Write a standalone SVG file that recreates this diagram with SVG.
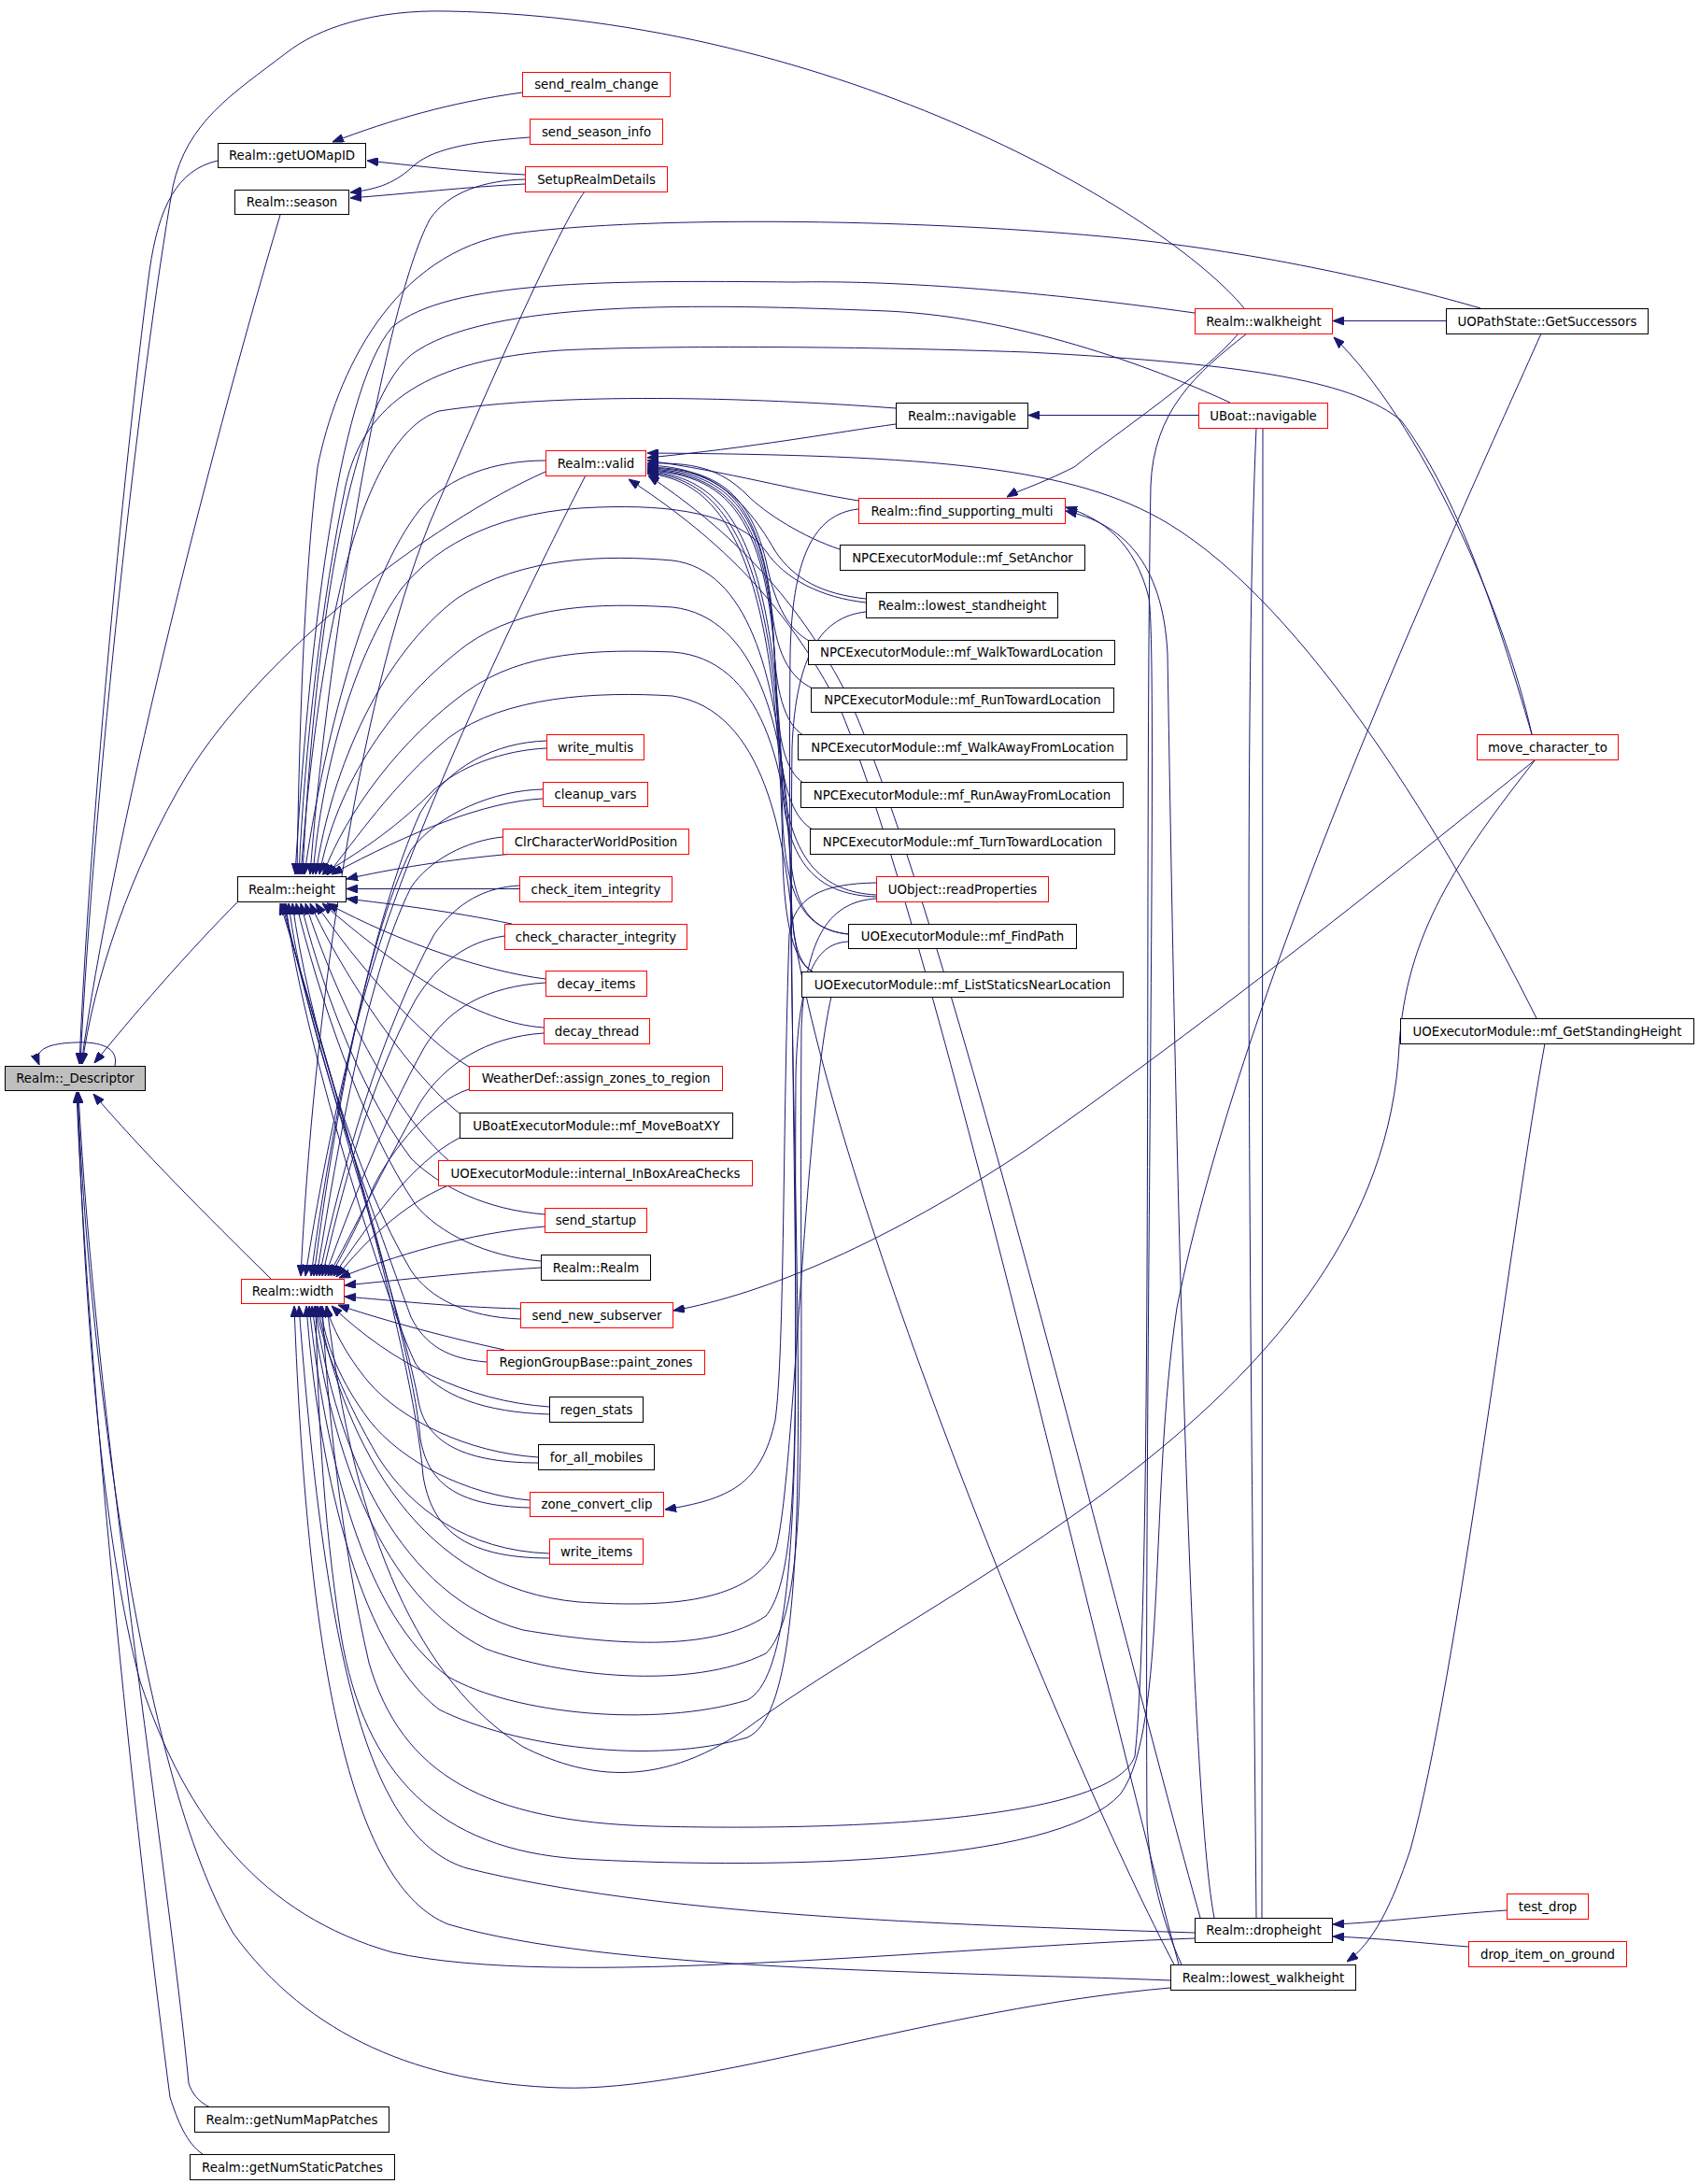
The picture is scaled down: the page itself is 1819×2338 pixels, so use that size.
<svg xmlns="http://www.w3.org/2000/svg" width="1819" height="2338" viewBox="0 0 1819 2338">
<defs>
<style>
.n rect{fill:#fff;stroke:#000;stroke-width:1}
.n.r rect{stroke:#f00}
.n.g rect{fill:#bfbfbf}
.n text{font-family:"DejaVu Sans","Liberation Sans",sans-serif;font-size:13.33px;text-anchor:middle;fill:#000}
#edges path{fill:none;stroke:#191970;stroke-width:1;marker-end:url(#a)}
#edges path.p{marker-end:none}
</style>
<marker id="a" markerWidth="12" markerHeight="9" refX="12" refY="4.5" orient="auto" markerUnits="userSpaceOnUse"><path d="M0,0 L12,4.5 L0,9 z" fill="#191970" stroke="#191970"/></marker>
</defs>
<rect width="1819" height="2338" fill="#fff"/>
<g id="edges">
<path d="M123,1141 C128,1118 100,1115 80,1116 C55,1117 35,1122 42,1140"/>
<path d="M256,964 C200,1020 140,1090 101,1138"/>
<path d="M290,1369 C220,1300 150,1230 100,1171"/>
<path d="M233,172 C190,182 170,220 160,290 C130,520 95,900 85,1139"/>
<path d="M300,230 C220,500 120,900 87,1139"/>
<path d="M1332,330 C1250,230 900,20 480,12 C400,10 340,30 306,57 C250,100 200,130 185,200 C150,400 100,850 86,1139"/>
<path d="M584,505 C460,560 280,700 200,830 C140,930 100,1050 88,1139"/>
<path d="M225,2256 C212,2250 205,2240 202,2230 C180,2000 100,1500 84,1169"/>
<path d="M217,2306 C200,2295 190,2270 182,2245 C150,2000 95,1500 82,1169"/>
<path d="M1253,2128 C1000,2150 750,2240 600,2235 C450,2230 330,2180 250,2070 C150,1900 95,1450 83,1169"/>
<path d="M1279,2075 C1000,2085 600,2130 420,2090 C280,2050 200,1950 150,1800 C110,1650 90,1400 83,1169"/>
<path d="M559,99 C480,110 420,128 356,152"/>
<path d="M562,187 C500,184 450,178 393,172"/>
<path d="M567,147 C500,152 460,160 440,180 C420,198 400,203 375,206"/>
<path d="M562,197 C500,200 440,207 375,212"/>
<path d="M562,192 C520,193 480,205 460,235 C410,330 350,700 332,936"/>
<path d="M626,205 C600,240 520,420 460,560 C380,760 335,1100 322,1366"/>
<path d="M584,493 C530,493 480,510 450,545 C390,620 345,800 326,936"/>
<path d="M627,509 C590,580 470,820 410,1000 C370,1120 340,1280 327,1366"/>
<path d="M585,801 C540,803 490,820 460,850 C420,890 380,915 345,936"/>
<path d="M585,793 C530,795 480,820 450,870 C400,980 355,1200 333,1366"/>
<path d="M581,855 C520,858 440,890 355,936"/>
<path d="M581,845 C530,846 470,870 440,910 C390,1010 355,1220 336,1366"/>
<path d="M550,914 C480,920 420,930 371,941"/>
<path d="M538,896 C500,900 460,920 440,950 C390,1050 358,1250 339,1366"/>
<path d="M556,951.5 L371,951.5"/>
<path d="M556,948 C520,950 490,965 465,1000 C410,1100 365,1250 342,1366"/>
<path d="M548,989 C480,975 420,968 371,962"/>
<path d="M540,1002 C500,1008 470,1030 445,1070 C395,1160 365,1280 345,1366"/>
<path d="M584,1048 C520,1040 430,1010 350,967"/>
<path d="M584,1052 C520,1056 480,1080 455,1120 C410,1200 372,1300 348,1366"/>
<path d="M582,1100 C510,1095 430,1040 345,967"/>
<path d="M582,1106 C520,1110 475,1140 450,1180 C410,1250 378,1320 351,1366"/>
<path d="M502,1142 C450,1110 380,1030 338,967"/>
<path d="M502,1166 C460,1180 420,1230 400,1270 C385,1310 365,1345 354,1366"/>
<path d="M492,1192 C440,1150 370,1050 332,967"/>
<path d="M492,1218 C440,1245 395,1310 357,1366"/>
<path d="M480,1242 C420,1190 360,1070 327,967"/>
<path d="M480,1269 C430,1290 390,1330 360,1367"/>
<path d="M583,1300 C520,1295 470,1270 440,1240 C380,1160 340,1040 322,967"/>
<path d="M583,1313 C500,1320 420,1345 363,1368"/>
<path d="M579,1350 C520,1345 470,1320 445,1290 C385,1200 340,1060 317,967"/>
<path d="M579,1357 C500,1362 430,1370 369,1376"/>
<path d="M557,1401 C480,1399 420,1392 369,1388"/>
<path d="M557,1412 C500,1410 460,1390 440,1360 C380,1260 330,1090 313,967"/>
<path d="M540,1445 C470,1430 400,1410 362,1397"/>
<path d="M521,1458 C480,1455 455,1440 440,1410 C400,1300 325,1100 309,967"/>
<path d="M588,1506 C500,1500 420,1460 355,1398"/>
<path d="M588,1514 C520,1512 470,1495 445,1460 C415,1400 320,1100 306,967"/>
<path d="M576,1560 C500,1555 430,1520 395,1480 C370,1450 355,1420 349,1398"/>
<path d="M576,1566 C490,1566 455,1540 448,1500 C430,1400 330,1100 304,967"/>
<path d="M567,1606 C500,1600 430,1565 395,1520 C365,1480 348,1440 343,1398"/>
<path d="M567,1614 C485,1612 458,1585 450,1540 C440,1420 335,1100 302,967"/>
<path d="M588,1663 C500,1660 440,1615 405,1560 C370,1500 345,1440 338,1398"/>
<path d="M588,1668 C495,1668 462,1635 453,1580 C442,1440 340,1100 300,967"/>
<path d="M1283,444.5 L1101,444.5"/>
<path d="M1548,343.5 L1427,343.5"/>
<path d="M1640,786 C1610,650 1520,450 1428,361"/>
<path d="M1326,357 C1290,400 1200,460 1150,500 C1110,520 1090,525 1078,532"/>
<path d="M959,454 C900,462 800,480 693,490"/>
<path d="M959,437 C800,425 600,420 470,440 C380,470 340,700 322,936"/>
<path d="M919,536 C850,525 780,505 693,493"/>
<path d="M899,588 C860,575 820,550 800,530 C770,500 740,495 693,496"/>
<path d="M927,641 C880,636 850,620 830,590 C790,520 750,500 693,498"/>
<path d="M868,687 C845,675 830,650 820,600 C800,520 760,502 693,500"/>
<path d="M870,737 C845,725 830,700 825,640 C810,530 770,503 693,501"/>
<path d="M860,787 C840,775 830,740 828,680 C820,540 775,505 693,502"/>
<path d="M860,838 C840,825 832,790 830,720 C825,550 780,507 693,503"/>
<path d="M870,888 C848,875 835,840 832,760 C828,560 785,508 693,504"/>
<path d="M938,960 C880,958 845,930 838,850 C830,600 790,510 693,505"/>
<path d="M908,1000 C860,995 842,960 838,880 C832,620 790,512 693,506"/>
<path d="M870,1040 C850,1030 840,990 838,920 C834,650 795,515 693,507"/>
<path d="M1645,1090 C1550,900 1400,650 1250,560 C1150,500 1000,487 693,485"/>
<path d="M1262,2103 C1180,1800 1000,1000 900,760 C840,640 760,570 673,513"/>
<path d="M1285,2053 C1200,1750 1020,1000 910,750 C850,630 770,560 694,509"/>
<path d="M1265,2103 C1245,2060 1230,2000 1228,1950 C1225,1500 1240,700 1230,640 C1215,580 1180,555 1141,543"/>
<path d="M1300,2053 C1270,1900 1255,1000 1250,700 C1245,600 1200,560 1141,547"/>
<path d="M1613,2045 C1540,2050 1480,2058 1427,2060"/>
<path d="M1572,2084 C1520,2080 1480,2075 1427,2073"/>
<path d="M1654,1117 C1620,1300 1560,1800 1510,1980 C1490,2040 1470,2080 1442,2100"/>
<path d="M1644,813 C1500,930 1300,1090 1100,1230 C950,1330 820,1385 721,1403"/>
<path d="M938,945 C880,946 850,960 845,1000 C838,1200 840,1450 830,1520 C815,1590 780,1605 712,1616"/>
<path class="p" d="M1352,458 L1351,2053"/>
<path class="p" d="M1345,2053 C1340,1500 1330,800 1345,458"/>
<path d="M1335,357 C1280,400 1235,440 1232,520 C1225,900 1235,1700 1215,1880 C1190,1950 900,1960 700,1955 C520,1950 430,1900 395,1780 C365,1650 350,1500 345,1398"/>
<path d="M1650,357 C1560,560 1330,1050 1260,1400 C1230,1600 1250,1850 1200,1920 C1130,2000 800,2000 620,1990 C470,1980 390,1900 365,1750 C345,1620 340,1500 338,1398"/>
<path d="M1644,813 C1560,920 1505,1000 1498,1120 C1480,1500 1000,1700 800,1850 C700,1920 620,1900 560,1870 C450,1800 380,1650 350,1398"/>
<path d="M1585,330 C1500,305 1350,270 1200,255 C1000,235 700,230 550,250 C420,270 360,400 340,500 C325,620 320,800 318,936"/>
<path d="M1279,335 C1100,310 950,300 850,302 C650,300 480,300 420,350 C360,420 330,700 316,936"/>
<path d="M1640,786 C1600,650 1560,530 1500,450 C1450,410 1350,390 1100,377 C900,370 700,370 600,375 C460,385 390,430 370,520 C345,640 326,800 320,936"/>
<path d="M1317,431 C1250,400 1100,340 950,333 C750,325 520,320 440,380 C370,440 335,700 324,936"/>
<path d="M927,645 C880,640 840,620 820,590 C790,550 720,540 640,543 C540,546 470,580 430,630 C380,700 345,820 335,936"/>
<path d="M938,958 C880,955 850,920 840,850 C830,720 800,610 720,600 C650,594 560,595 490,640 C410,700 355,820 338,936"/>
<path d="M908,1000 C860,995 848,960 845,900 C840,780 810,660 720,650 C640,645 560,648 500,690 C420,750 360,840 342,936"/>
<path d="M870,1040 C852,1030 848,1000 847,950 C845,820 815,705 720,698 C640,695 560,697 500,740 C430,790 370,870 346,936"/>
<path d="M1257,2103 C1150,1900 900,1300 850,1000 C840,900 820,760 720,745 C640,740 540,745 480,790 C420,840 380,900 350,937"/>
<path d="M890,1067 C860,1200 850,1600 830,1660 C800,1720 700,1720 620,1715 C450,1700 370,1550 340,1398"/>
<path d="M908,1008 C870,1010 855,1050 852,1150 C850,1500 860,1680 820,1730 C760,1770 650,1760 560,1745 C430,1710 360,1560 337,1398"/>
<path d="M938,962 C890,965 862,1000 858,1100 C855,1500 870,1720 820,1770 C740,1810 600,1795 520,1765 C410,1710 355,1560 334,1398"/>
<path d="M927,655 C880,660 852,700 848,800 C842,1300 880,1780 800,1820 C700,1850 550,1835 480,1795 C390,1730 348,1560 331,1398"/>
<path d="M919,545 C870,550 848,600 846,700 C840,1300 890,1820 800,1860 C700,1890 550,1870 470,1830 C380,1760 340,1560 328,1398"/>
<path d="M1279,2069 C1000,2060 700,2050 500,2000 C400,1970 350,1800 320,1398"/>
<path d="M1253,2120 C1000,2110 650,2110 480,2060 C380,2020 330,1800 315,1398"/>
</g>
<g id="n_desc" class="n g"><rect x="5.5" y="1141.5" width="150" height="26"/><text x="80.5" y="1159">Realm::_Descriptor</text></g>
<g id="n_uomap" class="n"><rect x="233.5" y="153.5" width="158" height="26"/><text x="312.5" y="171">Realm::getUOMapID</text></g>
<g id="n_season" class="n"><rect x="251.5" y="203.5" width="122" height="26"/><text x="312.5" y="221">Realm::season</text></g>
<g id="n_height" class="n"><rect x="254.5" y="938.5" width="116" height="27"/><text x="312.5" y="956.5">Realm::height</text></g>
<g id="n_width" class="n r"><rect x="258.5" y="1369.5" width="110" height="26"/><text x="313.5" y="1387">Realm::width</text></g>
<g id="n_nmp" class="n"><rect x="208.5" y="2255.5" width="208" height="27"/><text x="312.5" y="2273.5">Realm::getNumMapPatches</text></g>
<g id="n_nsp" class="n"><rect x="203.5" y="2306.5" width="219" height="27"/><text x="313" y="2324.5">Realm::getNumStaticPatches</text></g>
<g id="n_src" class="n r"><rect x="559.5" y="77.5" width="158" height="26"/><text x="638.5" y="95">send_realm_change</text></g>
<g id="n_ssi" class="n r"><rect x="567.5" y="127.5" width="142" height="27"/><text x="638.5" y="145.5">send_season_info</text></g>
<g id="n_setup" class="n r"><rect x="562.5" y="178.5" width="152" height="27"/><text x="638.5" y="196.5">SetupRealmDetails</text></g>
<g id="n_valid" class="n r"><rect x="584.5" y="482.5" width="107" height="27"/><text x="638" y="500.5">Realm::valid</text></g>
<g id="n_wm" class="n r"><rect x="585.5" y="786.5" width="104" height="27"/><text x="637.5" y="804.5">write_multis</text></g>
<g id="n_cv" class="n r"><rect x="581.5" y="837.5" width="112" height="26"/><text x="637.5" y="855">cleanup_vars</text></g>
<g id="n_clr" class="n r"><rect x="538.5" y="887.5" width="199" height="27"/><text x="638" y="905.5">ClrCharacterWorldPosition</text></g>
<g id="n_cii" class="n r"><rect x="556.5" y="938.5" width="163" height="27"/><text x="638" y="956.5">check_item_integrity</text></g>
<g id="n_cci" class="n r"><rect x="540.5" y="989.5" width="195" height="27"/><text x="638" y="1007.5">check_character_integrity</text></g>
<g id="n_di" class="n r"><rect x="584.5" y="1039.5" width="108" height="27"/><text x="638.5" y="1057.5">decay_items</text></g>
<g id="n_dt" class="n r"><rect x="582.5" y="1090.5" width="113" height="27"/><text x="639" y="1108.5">decay_thread</text></g>
<g id="n_wd" class="n r"><rect x="502.5" y="1141.5" width="271" height="26"/><text x="638" y="1159">WeatherDef::assign_zones_to_region</text></g>
<g id="n_ub" class="n"><rect x="492.5" y="1191.5" width="292" height="27"/><text x="638.5" y="1209.5">UBoatExecutorModule::mf_MoveBoatXY</text></g>
<g id="n_ibox" class="n r"><rect x="469.5" y="1242.5" width="336" height="27"/><text x="637.5" y="1260.5">UOExecutorModule::internal_InBoxAreaChecks</text></g>
<g id="n_ss" class="n r"><rect x="583.5" y="1293.5" width="109" height="26"/><text x="638" y="1311">send_startup</text></g>
<g id="n_rr" class="n"><rect x="579.5" y="1343.5" width="117" height="27"/><text x="638" y="1361.5">Realm::Realm</text></g>
<g id="n_sns" class="n r"><rect x="557.5" y="1394.5" width="163" height="27"/><text x="639" y="1412.5">send_new_subserver</text></g>
<g id="n_pz" class="n r"><rect x="521.5" y="1445.5" width="233" height="26"/><text x="638" y="1463">RegionGroupBase::paint_zones</text></g>
<g id="n_rs" class="n"><rect x="588.5" y="1495.5" width="100" height="27"/><text x="638.5" y="1513.5">regen_stats</text></g>
<g id="n_fam" class="n"><rect x="576.5" y="1546.5" width="124" height="27"/><text x="638.5" y="1564.5">for_all_mobiles</text></g>
<g id="n_zcc" class="n r"><rect x="567.5" y="1597.5" width="143" height="26"/><text x="639" y="1615">zone_convert_clip</text></g>
<g id="n_wi" class="n r"><rect x="588.5" y="1647.5" width="100" height="27"/><text x="638.5" y="1665.5">write_items</text></g>
<g id="n_nav" class="n"><rect x="959.5" y="431.5" width="141" height="27"/><text x="1030" y="449.5">Realm::navigable</text></g>
<g id="n_fsm" class="n r"><rect x="919.5" y="533.5" width="221" height="27"/><text x="1030" y="551.5">Realm::find_supporting_multi</text></g>
<g id="n_sa" class="n"><rect x="899.5" y="583.5" width="262" height="27"/><text x="1030.5" y="601.5">NPCExecutorModule::mf_SetAnchor</text></g>
<g id="n_lsh" class="n"><rect x="927.5" y="634.5" width="205" height="27"/><text x="1030" y="652.5">Realm::lowest_standheight</text></g>
<g id="n_wtl" class="n"><rect x="865.5" y="685.5" width="328" height="26"/><text x="1029.5" y="703">NPCExecutorModule::mf_WalkTowardLocation</text></g>
<g id="n_rtl" class="n"><rect x="868.5" y="736.5" width="324" height="26"/><text x="1030.5" y="754">NPCExecutorModule::mf_RunTowardLocation</text></g>
<g id="n_wafl" class="n"><rect x="854.5" y="786.5" width="352" height="27"/><text x="1030.5" y="804.5">NPCExecutorModule::mf_WalkAwayFromLocation</text></g>
<g id="n_rafl" class="n"><rect x="857.5" y="837.5" width="345" height="27"/><text x="1030" y="855.5">NPCExecutorModule::mf_RunAwayFromLocation</text></g>
<g id="n_ttl" class="n"><rect x="867.5" y="887.5" width="326" height="27"/><text x="1030.5" y="905.5">NPCExecutorModule::mf_TurnTowardLocation</text></g>
<g id="n_rp" class="n r"><rect x="938.5" y="938.5" width="184" height="27"/><text x="1030.5" y="956.5">UObject::readProperties</text></g>
<g id="n_fp" class="n"><rect x="908.5" y="989.5" width="244" height="26"/><text x="1030.5" y="1007">UOExecutorModule::mf_FindPath</text></g>
<g id="n_ls" class="n"><rect x="858.5" y="1040.5" width="344" height="27"/><text x="1030.5" y="1058.5">UOExecutorModule::mf_ListStaticsNearLocation</text></g>
<g id="n_wh" class="n r"><rect x="1279.5" y="330.5" width="147" height="27"/><text x="1353" y="348.5">Realm::walkheight</text></g>
<g id="n_unav" class="n r"><rect x="1283.5" y="431.5" width="138" height="27"/><text x="1352.5" y="449.5">UBoat::navigable</text></g>
<g id="n_dh" class="n"><rect x="1279.5" y="2053.5" width="147" height="26"/><text x="1353" y="2071">Realm::dropheight</text></g>
<g id="n_lwh" class="n"><rect x="1253.5" y="2103.5" width="198" height="27"/><text x="1352.5" y="2121.5">Realm::lowest_walkheight</text></g>
<g id="n_gs" class="n"><rect x="1548.5" y="330.5" width="216" height="27"/><text x="1656.5" y="348.5">UOPathState::GetSuccessors</text></g>
<g id="n_mct" class="n r"><rect x="1581.5" y="786.5" width="151" height="27"/><text x="1657" y="804.5">move_character_to</text></g>
<g id="n_gsh" class="n"><rect x="1499.5" y="1090.5" width="314" height="27"/><text x="1656.5" y="1108.5">UOExecutorModule::mf_GetStandingHeight</text></g>
<g id="n_td" class="n r"><rect x="1613.5" y="2027.5" width="87" height="27"/><text x="1657" y="2045.5">test_drop</text></g>
<g id="n_dig" class="n r"><rect x="1572.5" y="2078.5" width="169" height="27"/><text x="1657" y="2096.5">drop_item_on_ground</text></g>
</svg>
